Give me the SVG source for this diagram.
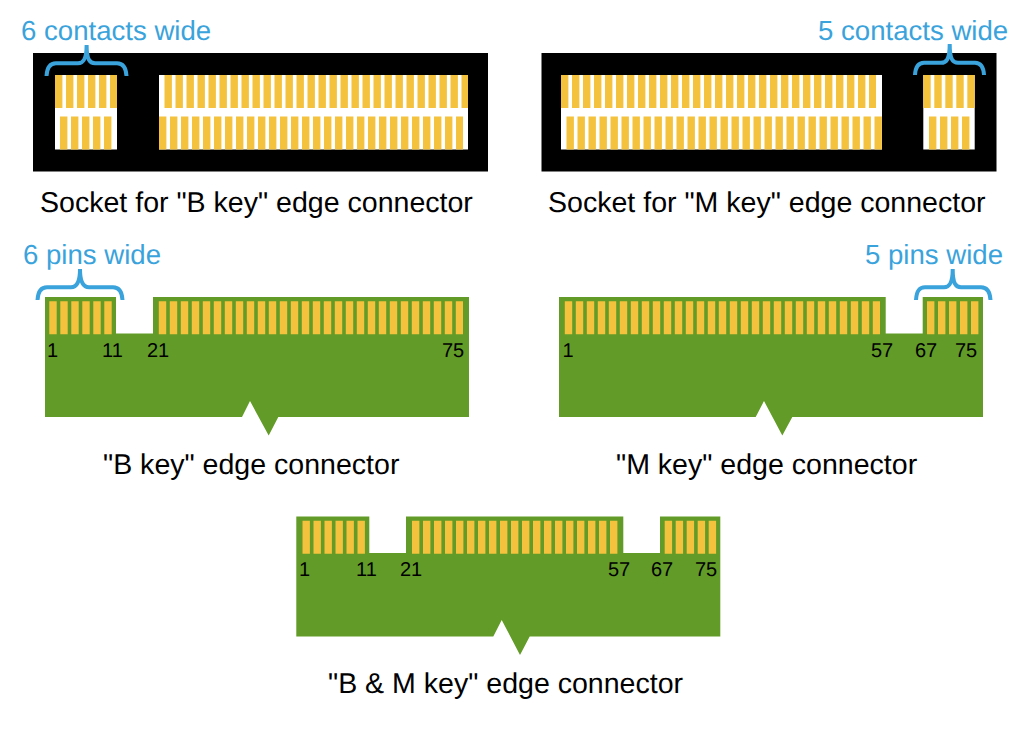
<svg xmlns="http://www.w3.org/2000/svg" width="1024" height="731" viewBox="0 0 1024 731">
<style>
text{font-family:"Liberation Sans",Arial,sans-serif;text-rendering:geometricPrecision}
.t{font-size:28.56px;fill:#000}
.b{font-size:27.6px;fill:#3aa3dc}
.n{font-size:20px;fill:#000}
.s{fill:#fff}
.g{fill:#629b27}
.c{fill:none;stroke:#f4c23c;stroke-dasharray:7.4 3.6;stroke-width:33}
.br{fill:none;stroke:#3aa3dc;stroke-width:4}
</style>
<rect width="1024" height="731" fill="#fff"/>
<g id="socket-b">
<rect x="33" y="53" width="455" height="118.5" fill="#000"/>
<rect class="s" x="55" y="75" width="62" height="74.5"/>
<rect class="s" x="159" y="75" width="309" height="74.5"/>
<path class="c" d="M55 91.4H117"/>
<path class="c" d="M60 133H111.5"/>
<path class="c" d="M164.5 91.4H468"/>
<path class="c" d="M159 133H463"/>
<text class="t" x="40" y="212">Socket for "B key" edge connector</text>
</g>
<g id="socket-m">
<rect x="541.5" y="53" width="455" height="118.5" fill="#000"/>
<rect class="s" x="561" y="75" width="321" height="74.5"/>
<rect class="s" x="923.3" y="75" width="51.4" height="74.5"/>
<path class="c" d="M561 91.4H876"/>
<path class="c" d="M566.5 133H882"/>
<path class="c" d="M923.3 91.4H974.8"/>
<path class="c" d="M929 133H969.5"/>
<text class="t" x="548" y="212">Socket for "M key" edge connector</text>
</g>
<g id="key-b">
<path class="g" d="M45 297H116V333.5H153V297H469V417H278.3L268.7 435.5L250 401L242 417H45Z"/>
<path class="c" d="M49.3 317.8H112"/>
<path class="c" d="M158.8 317.8H463"/>
<text class="n" x="47" y="357">1</text>
<text class="n" x="102" y="357">11</text>
<text class="n" x="147" y="357">21</text>
<text class="n" x="442" y="357">75</text>
<text class="t" x="103" y="474">"B key" edge connector</text>
</g>
<g id="key-m">
<path class="g" d="M559 297H885.7V333.5H922.7V297H983V417H792.3L782.3 435.5L764 401L755.7 417H559Z"/>
<path class="c" d="M564.8 317.8H880"/>
<path class="c" d="M927 317.8H978.7"/>
<text class="n" x="562.5" y="357">1</text>
<text class="n" x="871" y="357">57</text>
<text class="n" x="915" y="357">67</text>
<text class="n" x="955" y="357">75</text>
<text class="t" x="616" y="474">"M key" edge connector</text>
</g>
<g id="key-bm">
<path class="g" d="M296.3 516.5H369.3V553H406V516.5H623.3V553H660V516.5H720.3V636.5H529.7L520 655L501.7 620L493.3 636.5H296.3Z"/>
<path class="c" d="M302.5 537.2H365.5"/>
<path class="c" d="M412 537.2H617.5"/>
<path class="c" d="M664.7 537.2H716.3"/>
<text class="n" x="299" y="576">1</text>
<text class="n" x="356" y="576">11</text>
<text class="n" x="400" y="576">21</text>
<text class="n" x="608" y="576">57</text>
<text class="n" x="651" y="576">67</text>
<text class="n" x="695" y="576">75</text>
<text class="t" x="328" y="693">"B &amp; M key" edge connector</text>
</g>
<g id="annotations">
<text class="b" x="21" y="40">6 contacts wide</text>
<text class="b" x="818" y="40">5 contacts wide</text>
<text class="b" x="23" y="264">6 pins wide</text>
<text class="b" x="865" y="264">5 pins wide</text>
</g>
<g id="connectors">
<path class="br" d="M46.5 76C47 67 50 63.3 56 63.3H78C83 63.3 86.6 60 86.6 45C86.6 60 90 63.3 95 63.3H117C123 63.3 126 67 126.5 76"/>
<path class="br" d="M915 75C915.5 67 918 62.8 924 62.8H941C946 62.8 949.7 60 949.7 44C949.7 60 953 62.8 958 62.8H975C981 62.8 983.5 67 984 75"/>
<path class="br" d="M37.5 300C38 291 41 287.3 47 287.3H71C76 287.3 80 284 80 269C80 284 84 287.3 89 287.3H113C119 287.3 122 291 122.5 300"/>
<path class="br" d="M916 300C916.5 291 919 287.3 925 287.3H944C949 287.3 952.7 284 952.7 269C952.7 284 956 287.3 961 287.3H981C987 287.3 990 291 990.5 300"/>
</g>
</svg>
